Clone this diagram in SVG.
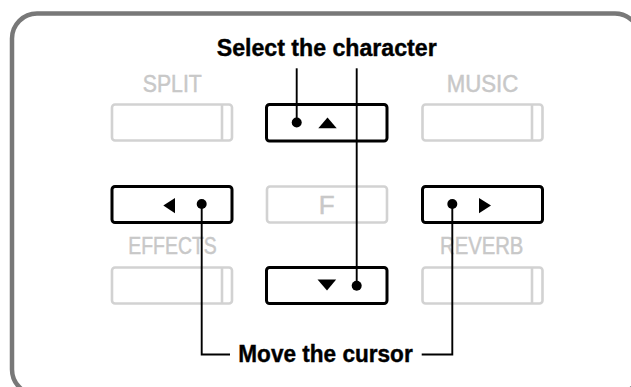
<svg xmlns="http://www.w3.org/2000/svg" width="631" height="387" viewBox="0 0 631 387">
<style>
.frame{fill:none;stroke:#787878;stroke-width:4.5}
.key{fill:#fff;stroke:#000;stroke-width:3}
.dim{fill:#fff;stroke:#d2d2d2;stroke-width:2.6}
.dimline{stroke:#d2d2d2;stroke-width:2.6}
.lbl{font-family:"Liberation Sans",Arial,sans-serif;font-size:24.5px;fill:#c8c8c8;stroke:#c8c8c8;stroke-width:0.5;text-anchor:middle}
.cap{font-family:"Liberation Sans",Arial,sans-serif;font-size:23.5px;font-weight:bold;fill:#000;stroke:#000;stroke-width:0.4;text-anchor:middle}
.conn{fill:none;stroke:#000;stroke-width:1.9}
.dot{fill:#000}
.tri{fill:#000}
</style>
<rect class="frame" x="12" y="13.5" width="628" height="381" rx="25" ry="25"/>

<g id="split">
<text class="lbl" x="172.3" y="91.7" textLength="59" lengthAdjust="spacingAndGlyphs">SPLIT</text>
<rect class="dim" x="112" y="104.5" width="120" height="36" rx="3"/>
<line class="dimline" x1="222" y1="104.5" x2="222" y2="140.5"/>
</g>
<g id="music">
<text class="lbl" x="482.5" y="91.7" textLength="71.6" lengthAdjust="spacingAndGlyphs">MUSIC</text>
<rect class="dim" x="422.5" y="104.5" width="120" height="36" rx="3"/>
<line class="dimline" x1="532" y1="104.5" x2="532" y2="140.5"/>
</g>
<g id="effects">
<text class="lbl" x="172.5" y="254" textLength="88.4" lengthAdjust="spacingAndGlyphs">EFFECTS</text>
<rect class="dim" x="112" y="267.5" width="120" height="36" rx="3"/>
<line class="dimline" x1="222" y1="267.5" x2="222" y2="303.5"/>
</g>
<g id="reverb">
<text class="lbl" x="481.7" y="254.3" textLength="83.3" lengthAdjust="spacingAndGlyphs">REVERB</text>
<rect class="dim" x="422.5" y="267.5" width="120" height="36" rx="3"/>
<line class="dimline" x1="532" y1="267.5" x2="532" y2="303.5"/>
</g>
<g id="f">
<rect class="dim" x="267" y="186.5" width="120" height="36" rx="3"/>
<text class="lbl" x="326.7" y="214.2" style="font-size:26px">F</text>
</g>

<g id="up">
<rect class="key" x="266.5" y="104.5" width="120.5" height="36.5" rx="3"/>
<polygon class="tri" points="327.5,117.5 336.7,128.3 318.3,128.3"/>
</g>
<g id="left">
<rect class="key" x="112" y="186.5" width="120" height="36" rx="3"/>
<polygon class="tri" points="163.3,205.5 175,198 175,213.3"/>
</g>
<g id="right">
<rect class="key" x="422.5" y="186.5" width="120" height="36" rx="3"/>
<polygon class="tri" points="491,205.5 479,198 479,213.3"/>
</g>
<g id="down">
<rect class="key" x="266.5" y="267.5" width="120.5" height="36" rx="3"/>
<polygon class="tri" points="317.5,279.5 336.2,279.5 327,290.5"/>
</g>

<g id="select-label">
<text class="cap" x="326.7" y="55.5" textLength="220" lengthAdjust="spacingAndGlyphs">Select the character</text>
</g>
<g id="move-label">
<text class="cap" x="325.5" y="361.7" textLength="174.4" lengthAdjust="spacingAndGlyphs">Move the cursor</text>
</g>

<g id="connectors">
<path class="conn" d="M296.7,68.3 V122.5"/>
<path class="conn" d="M356.7,68.3 V285.7"/>
<path class="conn" d="M201.7,204 V354.5 H230"/>
<path class="conn" d="M452.3,204 V354.5 H421.7"/>
<circle class="dot" cx="296.7" cy="122.5" r="5"/>
<circle class="dot" cx="356.7" cy="285.7" r="5"/>
<circle class="dot" cx="201.7" cy="204" r="5"/>
<circle class="dot" cx="452.3" cy="204" r="5"/>
</g>
</svg>
